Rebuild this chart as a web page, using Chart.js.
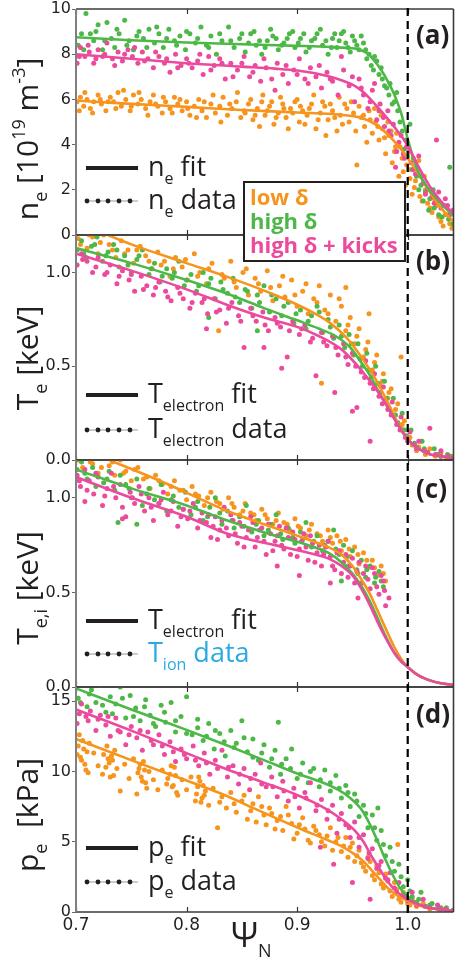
<!DOCTYPE html>
<html><head><meta charset="utf-8">
<script src="https://cdn.jsdelivr.net/npm/chart.js@4.4.0/dist/chart.umd.min.js"></script>
<style>
html,body{margin:0;padding:0;background:#fff;}
#wrap{position:relative;width:456px;height:962px;overflow:hidden;background:#fff;}
#wrap canvas{position:absolute;left:0;top:0;}
</style></head><body><div id="wrap">
<canvas id="ca" width="456" height="962"></canvas>
<canvas id="cb" width="456" height="962"></canvas>
<canvas id="cc" width="456" height="962"></canvas>
<canvas id="cd" width="456" height="962"></canvas>
</div>
<script>
// ---------- axes ----------
const X_MIN = 0.7, X_MAX = 1.0414;
const X_TICKS = [0.7, 0.8, 0.9, 1.0];
const NE_TICKS = [0, 2, 4, 6, 8, 10];
const TE_TICKS = [0.0, 0.5, 1.0];
const TI_TICKS = [0.0, 0.5, 1.0];
const PE_TICKS = [0, 5, 10, 15];
const SERIES_NAMES = ['low δ', 'high δ', 'high δ + kicks'];

// ---------- (a) electron density ----------
const NE_FIT_LOW = [[0.7,5.95],[0.75,5.8],[0.8,5.67],[0.85,5.53],[0.9,5.42],[0.94,5.32],[0.955,5.22],[0.965,5.05],[0.975,4.75],[0.985,4.3],[0.993,3.85],[1.0,3.4],[1.01,2.7],[1.02,1.9],[1.03,1.2],[1.0414,0.6]];
const NE_FIT_HIGH = [[0.7,8.75],[0.75,8.62],[0.8,8.52],[0.85,8.44],[0.9,8.37],[0.93,8.32],[0.945,8.28],[0.955,8.22],[0.963,8.05],[0.97,7.7],[0.976,7.3],[0.982,6.8],[0.988,6.2],[0.994,5.4],[1.0,4.25],[1.005,3.4],[1.01,2.75],[1.015,2.3],[1.021,1.9],[1.03,1.4],[1.0414,0.85]];
const NE_FIT_KICK = [[0.7,8.0],[0.75,7.8],[0.8,7.6],[0.85,7.45],[0.88,7.36],[0.9,7.28],[0.915,7.17],[0.93,7.0],[0.94,6.85],[0.95,6.65],[0.958,6.4],[0.965,6.08],[0.972,5.7],[0.98,5.25],[0.99,4.65],[1.0,3.95],[1.01,3.0],[1.02,2.15],[1.03,1.5],[1.0414,0.95]];
const NE_PTS_HIGH = [[0.702,8.4],[0.705,8.9],[0.709,9.8],[0.713,8.9],[0.716,8.6],[0.72,9.3],[0.724,8.2],[0.728,9.4],[0.732,8.7],[0.735,8.3],[0.739,8.9],[0.744,9.5],[0.748,8.6],[0.752,8.2],[0.757,9.0],[0.761,8.7],[0.766,9.1],[0.771,8.5],[0.775,8.9],[0.779,8.3],[0.784,9.1],[0.789,8.6],[0.794,8.8],[0.799,8.2],[0.803,8.9],[0.808,8.5],[0.813,9.2],[0.818,8.4],[0.822,8.8],[0.827,8.0],[0.832,8.6],[0.838,9.2],[0.843,8.3],[0.848,8.7],[0.853,8.1],[0.858,8.9],[0.863,8.4],[0.868,8.0],[0.873,8.6],[0.878,8.8],[0.883,8.2],[0.888,8.5],[0.893,8.9],[0.898,8.3],[0.903,8.7],[0.908,8.1],[0.913,8.6],[0.918,8.9],[0.923,8.4],[0.928,8.0],[0.932,8.7],[0.936,8.3],[0.94,8.9],[0.944,8.5],[0.948,8.1],[0.952,8.6],[0.956,8.2],[0.96,8.5],[0.963,7.8],[0.967,7.5],[0.97,7.9],[0.974,7.1],[0.977,6.9],[0.981,6.5],[0.984,6.7],[0.988,5.9],[0.991,5.5],[0.995,4.6],[0.998,4.2],[1.002,4.9],[1.005,3.4],[1.008,2.6],[1.012,2.2],[1.016,1.9],[1.02,1.6],[1.024,1.2],[1.028,0.9],[1.033,1.3],[1.037,0.7],[1.041,0.5],
  [0.707,8.2],[0.718,9.0],[0.726,8.6],[0.737,9.1],[0.746,8.4],[0.755,8.8],[0.764,8.3],[0.773,9.2],[0.782,8.7],[0.791,8.4],[0.8,9.0],[0.81,8.7],[0.82,8.3],[0.83,8.9],[0.84,8.6],[0.85,8.9],[0.856,8.5],[0.861,9.0],[0.866,8.6],[0.871,8.3],[0.876,9.1],[0.881,8.7],[0.886,8.4],[0.891,8.7],[0.896,9.0],[0.901,8.5],[0.906,8.9],[0.911,8.3],[0.916,8.7],[0.921,9.1],[0.926,8.6],[0.931,8.3],[0.934,8.9],[0.938,8.6],[0.942,9.0],[0.946,8.3],[0.95,8.8],[0.954,8.4],[0.958,8.8],[0.962,8.2],[0.965,8.0],[0.969,7.3],[0.972,7.7],[0.976,7.4],[0.979,6.6],[0.983,6.2],[0.986,5.8],[0.99,6.3],[0.993,5.0],[0.997,3.8],[1.0,3.5],[1.004,2.9],[1.01,2.0],[1.014,1.5],[1.019,1.1],[1.023,2.0],[1.027,1.5],[1.031,0.8],[1.038,3.0]];
const NE_PTS_KICK = [[0.701,7.6],[0.704,8.3],[0.708,7.9],[0.712,8.1],[0.716,7.6],[0.72,8.2],[0.724,7.9],[0.728,8.5],[0.733,7.8],[0.738,8.1],[0.742,7.7],[0.747,8.2],[0.751,7.9],[0.756,7.6],[0.76,8.1],[0.765,7.8],[0.77,7.4],[0.775,7.9],[0.78,7.6],[0.785,7.2],[0.79,8.0],[0.795,7.5],[0.8,7.8],[0.805,7.4],[0.81,7.7],[0.815,7.1],[0.82,7.9],[0.825,7.5],[0.83,7.8],[0.835,6.9],[0.84,7.6],[0.846,7.3],[0.852,7.9],[0.857,7.0],[0.862,7.5],[0.867,6.8],[0.872,7.4],[0.877,6.9],[0.882,7.6],[0.887,7.1],[0.892,6.7],[0.897,7.3],[0.902,7.8],[0.907,6.9],[0.912,7.4],[0.917,7.0],[0.922,6.5],[0.927,7.2],[0.932,6.8],[0.937,6.2],[0.942,7.3],[0.947,6.6],[0.952,5.9],[0.956,6.9],[0.96,6.2],[0.964,5.6],[0.968,6.4],[0.972,5.1],[0.975,5.8],[0.979,4.8],[0.982,5.5],[0.985,4.4],[0.989,3.0],[0.992,4.1],[0.996,3.6],[0.999,3.9],[1.003,3.2],[1.007,2.7],[1.01,3.5],[1.014,2.3],[1.018,2.0],[1.022,1.7],[1.026,4.2],[1.03,1.2],[1.034,1.6],[1.038,0.9],[1.041,1.1],
  [0.703,7.9],[0.711,8.4],[0.718,7.8],[0.726,8.0],[0.735,7.5],[0.744,8.0],[0.753,8.3],[0.762,7.7],[0.772,8.1],[0.782,7.8],[0.792,7.4],[0.802,7.6],[0.812,8.0],[0.822,7.3],[0.832,7.6],[0.842,7.0],[0.85,7.6],[0.86,7.2],[0.87,7.8],[0.88,6.4],[0.89,7.5],[0.9,7.1],[0.91,6.7],[0.92,7.5],[0.93,6.9],[0.94,7.9],[0.95,7.0],[0.958,6.5],[0.966,5.9],[0.97,6.7],[0.974,5.5],[0.978,5.2],[0.983,4.6],[0.987,4.9],[0.99,3.7],[0.994,4.4],[0.997,3.4],[1.001,3.7],[1.005,2.9],[1.012,2.6],[1.016,1.8],[1.024,1.4],[1.028,1.9],[1.036,1.3]];
const NE_PTS_LOW = [[0.701,5.9],[0.704,6.1],[0.707,5.7],[0.71,6.0],[0.713,5.6],[0.716,5.9],[0.72,6.2],[0.723,5.8],[0.727,5.5],[0.731,6.1],[0.734,5.9],[0.738,6.3],[0.741,5.7],[0.745,6.0],[0.749,5.5],[0.752,6.2],[0.756,5.8],[0.759,6.0],[0.763,5.6],[0.767,5.9],[0.77,6.2],[0.774,5.7],[0.778,5.4],[0.781,5.9],[0.785,5.6],[0.789,6.1],[0.792,5.8],[0.796,5.5],[0.8,5.9],[0.803,5.3],[0.807,5.7],[0.811,6.0],[0.814,5.5],[0.818,5.2],[0.822,5.8],[0.826,5.4],[0.83,5.7],[0.833,6.1],[0.837,5.3],[0.841,5.6],[0.845,5.9],[0.849,5.2],[0.852,5.5],[0.856,5.8],[0.86,5.1],[0.864,5.6],[0.868,5.9],[0.871,5.3],[0.875,5.7],[0.879,4.9],[0.883,5.4],[0.887,5.8],[0.89,5.2],[0.894,5.6],[0.898,5.9],[0.902,5.0],[0.905,5.5],[0.909,5.3],[0.913,5.8],[0.917,4.7],[0.921,5.4],[0.925,5.7],[0.928,5.1],[0.932,5.5],[0.936,4.6],[0.939,5.3],[0.943,5.8],[0.947,5.0],[0.951,5.4],[0.954,3.1],[0.958,5.2],[0.961,4.8],[0.965,5.5],[0.968,4.5],[0.971,5.0],[0.974,4.2],[0.977,4.7],[0.98,3.6],[0.983,4.4],[0.986,3.2],[0.989,3.9],[0.992,2.6],[0.995,3.4],[0.998,2.2],[1.001,2.9],[1.004,1.8],[1.007,2.4],[1.01,3.3],[1.013,1.5],[1.016,2.0],[1.02,1.2],[1.024,1.6],[1.028,0.8],[1.032,0.4],[1.036,0.9],[1.04,0.3],
  [0.703,5.5],[0.708,6.3],[0.715,5.4],[0.722,6.0],[0.729,5.9],[0.736,5.6],[0.743,6.4],[0.75,5.7],[0.757,6.3],[0.765,5.3],[0.772,5.8],[0.779,6.1],[0.787,5.4],[0.794,6.0],[0.801,5.6],[0.809,5.2],[0.816,5.9],[0.824,6.2],[0.831,5.0],[0.839,5.8],[0.846,6.3],[0.853,5.4],[0.858,6.0],[0.862,5.3],[0.866,4.8],[0.869,6.2],[0.873,5.5],[0.877,5.9],[0.881,5.2],[0.885,6.1],[0.888,5.6],[0.892,4.7],[0.896,5.4],[0.9,6.0],[0.903,5.7],[0.907,4.9],[0.911,5.6],[0.915,6.2],[0.919,5.1],[0.923,5.9],[0.926,4.4],[0.93,5.8],[0.934,5.2],[0.938,6.1],[0.941,4.9],[0.945,5.6],[0.949,5.9],[0.953,4.6],[0.956,5.7],[0.96,5.3],[0.963,4.1],[0.966,5.1],[0.97,5.6],[0.973,4.8],[0.976,5.3],[0.979,4.3],[0.982,5.0],[0.985,4.6],[0.988,3.7],[0.99,4.5],[0.993,3.9],[0.996,2.8],[0.999,3.1],[1.002,2.5],[1.006,2.1],[1.011,1.7],[1.015,2.6],[1.018,1.4],[1.022,1.0],[1.026,1.3],[1.03,0.6],[1.034,0.9],[1.038,0.5]];

// ---------- (b) electron temperature ----------
const TE_FIT_LOW = [[0.7,1.27],[0.75,1.15],[0.8,1.05],[0.84,0.97],[0.88,0.88],[0.91,0.8],[0.93,0.73],[0.945,0.65],[0.958,0.55],[0.97,0.44],[0.98,0.33],[0.99,0.21],[1.0,0.11],[1.01,0.06],[1.02,0.03],[1.03,0.02],[1.0414,0.01]];
const TE_FIT_HIGH = [[0.7,1.13],[0.75,1.05],[0.8,0.96],[0.84,0.88],[0.87,0.81],[0.9,0.745],[0.92,0.7],[0.935,0.66],[0.948,0.6],[0.958,0.52],[0.966,0.45],[0.975,0.35],[0.983,0.27],[0.99,0.2],[1.0,0.11],[1.01,0.06],[1.02,0.03],[1.03,0.02],[1.0414,0.01]];
const TE_FIT_KICK = [[0.7,1.10],[0.75,1.01],[0.8,0.91],[0.84,0.82],[0.87,0.76],[0.9,0.71],[0.92,0.66],[0.94,0.59],[0.952,0.52],[0.962,0.45],[0.97,0.39],[0.978,0.32],[0.985,0.25],[0.992,0.18],[1.0,0.11],[1.01,0.06],[1.02,0.03],[1.03,0.02],[1.0414,0.01]];
const TE_PTS_LOW = [[0.702,1.18],[0.706,1.22],[0.71,1.13],[0.715,1.19],[0.72,1.1],[0.725,1.2],[0.73,1.15],[0.736,1.08],[0.741,1.17],[0.747,1.12],[0.752,1.05],[0.758,1.14],[0.763,1.09],[0.769,1.02],[0.774,1.11],[0.78,1.06],[0.785,0.98],[0.79,1.08],[0.796,1.03],[0.801,0.96],[0.807,1.1],[0.812,1.0],[0.818,0.94],[0.823,1.05],[0.829,0.69],[0.834,0.97],[0.84,1.06],[0.845,0.92],[0.851,1.0],[0.856,0.88],[0.862,0.97],[0.867,0.9],[0.873,1.01],[0.878,0.85],[0.884,0.93],[0.889,0.87],[0.895,0.96],[0.9,0.82],[0.905,0.9],[0.91,0.78],[0.915,0.86],[0.92,0.93],[0.925,0.8],[0.93,0.88],[0.935,0.74],[0.94,0.82],[0.944,0.69],[0.948,0.76],[0.952,0.62],[0.956,0.7],[0.96,0.55],[0.964,0.63],[0.968,0.48],[0.972,0.56],[0.975,0.4],[0.978,0.46],[0.982,0.33],[0.985,0.38],[0.988,0.24],[0.991,0.3],[0.994,0.17],[0.997,0.21],[1.0,0.11],[1.004,0.08],[1.008,0.05],[1.012,0.1],[1.016,0.03],[1.02,0.06],[1.025,0.02],[1.03,0.04],[1.035,0.01],[1.04,0.02],
  [0.704,1.15],[0.712,1.2],[0.722,1.16],[0.733,1.12],[0.744,1.1],[0.755,1.12],[0.766,1.06],[0.777,1.04],[0.788,1.02],[0.799,1.07],[0.81,0.98],[0.82,1.02],[0.832,0.99],[0.843,0.95],[0.854,1.02],[0.865,0.94],[0.876,0.92],[0.887,0.98],[0.898,0.88],[0.908,0.94],[0.918,0.84],[0.928,0.78],[0.938,0.86],[0.946,0.72],[0.954,0.66],[0.962,0.59],[0.97,0.52],[0.977,0.42],[0.983,0.36],[0.989,0.27],[0.995,0.19],[1.002,0.12],[1.01,0.07],[1.018,0.04],[1.028,0.03],[1.038,0.015],[0.922,0.41],[0.944,0.92],[0.994,0.55],[0.965,0.78]];
const TE_PTS_HIGH = [[0.701,1.12],[0.705,1.17],[0.709,1.08],[0.714,1.14],[0.719,1.19],[0.724,1.06],[0.729,1.11],[0.734,1.15],[0.739,1.03],[0.744,1.09],[0.75,1.0],[0.755,1.07],[0.76,1.12],[0.766,0.99],[0.771,1.05],[0.776,0.95],[0.782,1.02],[0.787,0.97],[0.793,1.06],[0.798,0.93],[0.804,0.99],[0.809,0.9],[0.815,1.0],[0.82,0.94],[0.826,0.86],[0.831,0.95],[0.837,0.89],[0.842,0.97],[0.848,0.84],[0.853,0.91],[0.859,0.81],[0.864,0.88],[0.87,0.93],[0.875,0.79],[0.881,0.86],[0.886,0.77],[0.892,0.84],[0.897,0.73],[0.903,0.8],[0.908,0.7],[0.913,0.77],[0.918,0.82],[0.923,0.68],[0.928,0.75],[0.933,0.65],[0.938,0.72],[0.943,0.6],[0.947,0.67],[0.951,0.56],[0.955,0.62],[0.959,0.5],[0.963,0.57],[0.967,0.44],[0.971,0.5],[0.975,0.36],[0.979,0.42],[0.983,0.28],[0.987,0.33],[0.991,0.2],[0.995,0.25],[0.999,0.13],[1.003,0.16],[1.008,0.07],[1.013,0.1],[1.018,0.04],[1.024,0.06],[1.03,0.02],[1.036,0.03],[1.041,0.01],
  [0.707,1.1],[0.717,1.15],[0.727,1.09],[0.737,1.12],[0.747,1.04],[0.757,1.09],[0.768,1.02],[0.778,0.98],[0.789,1.0],[0.8,0.96],[0.811,0.93],[0.822,0.97],[0.833,0.91],[0.844,0.87],[0.855,0.9],[0.866,0.84],[0.877,0.88],[0.888,0.82],[0.899,0.78],[0.91,0.74],[0.92,0.79],[0.93,0.71],[0.94,0.66],[0.949,0.62],[0.957,0.54],[0.965,0.48],[0.973,0.41],[0.981,0.33],[0.989,0.24],[0.997,0.16],[1.006,0.09],[1.015,0.06],[1.027,0.03],[1.038,0.02],[0.864,0.69],[0.82,0.76]];
const TE_PTS_KICK = [[0.701,1.04],[0.705,1.1],[0.71,1.06],[0.715,1.0],[0.72,1.08],[0.726,0.99],[0.731,1.04],[0.737,0.94],[0.742,1.01],[0.748,0.96],[0.753,0.9],[0.759,0.98],[0.764,0.93],[0.77,0.88],[0.775,0.95],[0.781,0.9],[0.786,0.85],[0.792,0.92],[0.797,0.86],[0.803,0.81],[0.808,0.89],[0.814,0.84],[0.819,0.78],[0.825,0.86],[0.83,0.8],[0.836,0.73],[0.841,0.84],[0.847,0.77],[0.852,0.6],[0.858,0.81],[0.863,0.74],[0.869,0.79],[0.874,0.69],[0.88,0.76],[0.885,0.71],[0.891,0.55],[0.896,0.74],[0.902,0.67],[0.907,0.72],[0.912,0.63],[0.917,0.45],[0.922,0.68],[0.927,0.61],[0.932,0.66],[0.937,0.56],[0.942,0.62],[0.946,0.51],[0.95,0.57],[0.954,0.28],[0.958,0.47],[0.962,0.53],[0.966,0.41],[0.97,0.46],[0.974,0.34],[0.978,0.39],[0.982,0.27],[0.986,0.31],[0.99,0.19],[0.994,0.23],[0.998,0.12],[1.002,0.15],[1.006,0.08],[1.01,0.1],[1.015,0.05],[1.02,0.17],[1.025,0.03],[1.03,0.05],[1.036,0.02],[1.041,0.01],
  [0.706,1.07],[0.718,1.03],[0.728,1.0],[0.739,0.98],[0.75,0.99],[0.761,0.91],[0.772,0.92],[0.783,0.87],[0.794,0.89],[0.805,0.84],[0.816,0.86],[0.818,0.7],[0.827,0.79],[0.838,0.81],[0.849,0.74],[0.86,0.77],[0.87,0.6],[0.871,0.72],[0.882,0.73],[0.886,0.49],[0.893,0.69],[0.904,0.7],[0.914,0.65],[0.924,0.63],[0.934,0.36],[0.935,0.6],[0.944,0.55],[0.95,0.26],[0.953,0.5],[0.961,0.44],[0.966,0.1],[0.969,0.38],[0.977,0.3],[0.985,0.24],[0.993,0.16],[1.0,0.1],[1.008,0.06],[1.018,0.04],[1.03,0.02]];

// ---------- (c) electron fit + ion temperature data ----------
const TI_FIT_LOW = [[0.7,1.27],[0.73,1.2],[0.78,1.08],[0.837,0.93],[0.88,0.84],[0.91,0.78],[0.928,0.74],[0.94,0.7],[0.95,0.64],[0.958,0.57],[0.966,0.49],[0.973,0.40],[0.98,0.31],[0.988,0.21],[0.994,0.15],[1.0,0.105],[1.01,0.06],[1.02,0.035],[1.03,0.02],[1.0414,0.01]];
const TI_FIT_HIGH = [[0.7,1.15],[0.75,1.05],[0.8,0.96],[0.837,0.88],[0.88,0.8],[0.91,0.75],[0.928,0.71],[0.94,0.66],[0.95,0.6],[0.958,0.535],[0.966,0.45],[0.973,0.36],[0.98,0.27],[0.988,0.18],[0.994,0.135],[1.0,0.105],[1.01,0.06],[1.02,0.035],[1.03,0.02],[1.0414,0.01]];
const TI_FIT_KICK = [[0.7,1.11],[0.75,1.0],[0.8,0.9],[0.837,0.81],[0.88,0.75],[0.91,0.71],[0.928,0.68],[0.94,0.64],[0.95,0.59],[0.958,0.52],[0.966,0.43],[0.973,0.34],[0.98,0.26],[0.988,0.18],[0.994,0.135],[1.0,0.105],[1.01,0.06],[1.02,0.035],[1.03,0.02],[1.0414,0.01]];
const TI_PTS_LOW = [[0.702,1.2],[0.706,1.16],[0.71,1.23],[0.715,1.18],[0.72,1.13],[0.725,1.21],[0.73,1.17],[0.735,1.12],[0.74,1.2],[0.745,1.14],[0.75,1.09],[0.756,1.16],[0.761,1.1],[0.767,1.05],[0.772,1.12],[0.778,1.07],[0.783,1.02],[0.789,1.09],[0.794,1.04],[0.8,0.99],[0.805,1.06],[0.811,1.01],[0.816,0.96],[0.822,1.03],[0.827,0.98],[0.833,0.94],[0.838,1.0],[0.843,0.95],[0.848,0.91],[0.853,0.97],[0.858,0.92],[0.863,0.88],[0.868,0.94],[0.873,0.89],[0.878,0.86],[0.883,0.92],[0.888,0.87],[0.893,0.83],[0.898,0.89],[0.903,0.84],[0.908,0.8],[0.913,0.86],[0.918,0.81],[0.923,0.77],[0.928,0.83],[0.932,0.76],[0.936,0.8],[0.94,0.72],[0.944,0.78],[0.948,0.69],[0.952,0.74],[0.956,0.65],[0.96,0.71],[0.964,0.63],[0.968,0.67],[0.972,0.59],[0.976,0.64],[0.98,0.56],
  [0.704,1.22],[0.713,1.19],[0.723,1.16],[0.733,1.19],[0.743,1.13],[0.753,1.15],[0.764,1.11],[0.775,1.09],[0.786,1.06],[0.797,1.04],[0.808,1.02],[0.819,1.0],[0.83,0.97],[0.841,0.97],[0.851,0.93],[0.861,0.91],[0.871,0.91],[0.881,0.88],[0.891,0.86],[0.901,0.85],[0.911,0.83],[0.921,0.8],[0.93,0.79],[0.939,0.77],[0.947,0.73],[0.955,0.7],[0.963,0.67],[0.97,0.63],[0.978,0.6]];
const TI_PTS_HIGH = [[0.701,1.15],[0.705,1.19],[0.71,1.1],[0.715,1.16],[0.72,1.21],[0.725,1.08],[0.73,1.14],[0.735,1.04],[0.74,1.12],[0.745,1.07],[0.75,1.0],[0.755,1.1],[0.76,0.96],[0.766,1.05],[0.771,0.99],[0.777,1.07],[0.782,0.93],[0.788,1.01],[0.793,0.95],[0.799,1.03],[0.804,0.91],[0.81,0.98],[0.815,0.88],[0.821,0.95],[0.826,1.0],[0.832,0.86],[0.837,0.93],[0.843,0.84],[0.848,0.9],[0.854,0.96],[0.859,0.82],[0.865,0.88],[0.87,0.8],[0.876,0.86],[0.881,0.91],[0.887,0.78],[0.892,0.84],[0.898,0.76],[0.903,0.82],[0.908,0.87],[0.913,0.74],[0.918,0.8],[0.923,0.72],[0.928,0.77],[0.933,0.83],[0.938,0.7],[0.942,0.75],[0.946,0.64],[0.95,0.72],[0.954,0.62],[0.958,0.67],[0.962,0.58],[0.966,0.64],[0.97,0.55],[0.974,0.61],[0.978,0.53],
  [0.708,1.13],[0.718,1.06],[0.728,1.1],[0.738,0.87],[0.748,1.05],[0.755,0.86],[0.764,1.02],[0.775,0.97],[0.786,0.99],[0.797,0.94],[0.808,0.95],[0.819,0.9],[0.83,0.92],[0.841,0.88],[0.852,0.85],[0.863,0.86],[0.874,0.83],[0.885,0.81],[0.896,0.79],[0.905,0.78],[0.915,0.77],[0.925,0.75],[0.935,0.73],[0.945,0.69],[0.955,0.6],[0.963,0.62],[0.971,0.58],[0.976,0.56],[0.94,0.56]];
const TI_PTS_KICK = [[0.701,1.12],[0.704,1.06],[0.708,1.15],[0.712,1.09],[0.716,1.02],[0.72,1.11],[0.724,0.96],[0.728,1.05],[0.732,1.13],[0.736,1.0],[0.74,1.07],[0.745,0.9],[0.749,1.03],[0.753,0.97],[0.757,1.06],[0.762,0.93],[0.766,1.0],[0.77,0.88],[0.775,0.97],[0.779,1.03],[0.783,0.91],[0.788,0.98],[0.792,0.85],[0.797,0.94],[0.801,0.89],[0.806,0.97],[0.81,0.84],[0.814,0.92],[0.818,0.87],[0.822,0.79],[0.826,0.9],[0.83,0.83],[0.834,0.95],[0.838,0.8],[0.842,0.88],[0.846,0.76],[0.85,0.85],[0.854,0.79],[0.858,0.9],[0.862,0.74],[0.866,0.83],[0.87,0.77],[0.874,0.86],[0.878,0.72],[0.882,0.8],[0.886,0.75],[0.89,0.84],[0.894,0.7],[0.898,0.78],[0.902,0.73],[0.906,0.81],[0.91,0.67],[0.914,0.76],[0.918,0.71],[0.922,0.64],[0.926,0.74],[0.93,0.69],[0.934,0.62],[0.938,0.72],[0.942,0.66],[0.946,0.58],[0.95,0.68],[0.954,0.61],[0.958,0.55],[0.962,0.64],[0.966,0.52],[0.97,0.6],[0.974,0.49],[0.978,0.56],[0.98,0.43],
  [0.703,1.09],[0.71,1.04],[0.718,1.13],[0.726,1.01],[0.734,1.06],[0.742,0.95],[0.751,1.0],[0.759,1.02],[0.768,0.95],[0.777,0.99],[0.786,0.93],[0.795,0.9],[0.803,0.93],[0.812,0.88],[0.82,0.91],[0.824,0.85],[0.828,0.78],[0.832,0.88],[0.836,0.84],[0.84,0.91],[0.844,0.81],[0.848,0.87],[0.852,0.74],[0.856,0.83],[0.86,0.87],[0.864,0.79],[0.868,0.84],[0.872,0.7],[0.876,0.81],[0.88,0.77],[0.884,0.85],[0.888,0.73],[0.892,0.79],[0.896,0.82],[0.9,0.69],[0.904,0.77],[0.908,0.74],[0.912,0.8],[0.916,0.66],[0.92,0.75],[0.924,0.7],[0.928,0.77],[0.932,0.64],[0.936,0.71],[0.94,0.6],[0.944,0.7],[0.948,0.64],[0.952,0.55],[0.956,0.66],[0.96,0.6],[0.964,0.57],[0.968,0.63],[0.972,0.53],[0.976,0.59],[0.979,0.51],[0.882,0.64],[0.902,0.59],[0.93,0.55],[0.955,0.47],[0.983,0.47],[0.708,0.98],[0.742,0.89]];

// ---------- (d) electron pressure ----------
const PE_FIT_LOW = [[0.7,12.3],[0.76,10.5],[0.8,9.35],[0.838,8.2],[0.86,7.4],[0.883,6.6],[0.905,5.85],[0.928,5.1],[0.942,4.6],[0.952,4.1],[0.96,3.6],[0.967,3.0],[0.975,2.3],[0.982,1.7],[0.99,1.2],[1.0,0.8],[1.009,0.5],[1.018,0.3],[1.03,0.16],[1.0414,0.1]];
const PE_FIT_HIGH = [[0.7,15.9],[0.75,14.4],[0.8,12.95],[0.838,11.8],[0.87,10.8],[0.9,9.85],[0.92,9.3],[0.937,8.7],[0.948,8.1],[0.958,7.3],[0.966,6.2],[0.973,5.0],[0.98,3.7],[0.988,2.4],[0.994,1.6],[1.0,1.1],[1.009,0.6],[1.018,0.35],[1.03,0.18],[1.0414,0.1]];
const PE_FIT_KICK = [[0.7,14.4],[0.75,12.9],[0.8,11.3],[0.838,10.1],[0.87,9.2],[0.896,8.45],[0.915,7.8],[0.928,7.25],[0.94,6.6],[0.952,5.8],[0.96,5.0],[0.967,4.0],[0.975,3.0],[0.982,2.15],[0.99,1.45],[1.0,0.9],[1.009,0.55],[1.018,0.32],[1.03,0.17],[1.0414,0.1]];
const PE_PTS_HIGH = [[0.702,15.2],[0.706,16.3],[0.71,14.6],[0.714,15.8],[0.718,14.9],[0.722,16.1],[0.727,14.2],[0.731,15.3],[0.736,14.8],[0.74,16.0],[0.745,13.8],[0.749,15.4],[0.754,14.5],[0.758,13.6],[0.763,15.1],[0.767,14.0],[0.772,13.2],[0.777,14.7],[0.781,13.5],[0.786,14.9],[0.79,12.8],[0.795,13.9],[0.8,15.3],[0.805,12.6],[0.81,13.7],[0.815,12.2],[0.82,13.4],[0.825,11.6],[0.83,12.7],[0.835,11.1],[0.84,12.9],[0.845,12.0],[0.85,13.6],[0.855,11.4],[0.86,12.3],[0.865,10.8],[0.87,11.9],[0.875,10.3],[0.88,11.5],[0.883,13.5],[0.885,9.8],[0.89,10.9],[0.895,11.6],[0.9,9.5],[0.905,10.6],[0.91,9.2],[0.915,10.2],[0.92,8.9],[0.925,10.1],[0.93,8.6],[0.935,9.7],[0.94,8.1],[0.944,9.0],[0.948,7.5],[0.952,8.4],[0.956,6.8],[0.96,7.6],[0.964,6.0],[0.968,6.9],[0.972,5.1],[0.973,7.4],[0.976,5.8],[0.98,4.0],[0.984,4.6],[0.988,2.9],[0.992,3.4],[0.996,1.8],[1.0,2.3],[1.004,1.1],[1.008,0.7],[1.012,1.4],[1.016,0.4],[1.022,0.6],[1.028,0.2],[1.035,0.3],[1.041,0.1],
  [0.704,14.9],[0.712,15.5],[0.724,14.7],[0.733,14.1],[0.742,15.2],[0.752,13.9],[0.762,14.6],[0.77,13.4],[0.78,14.2],[0.79,13.6],[0.8,12.7],[0.81,13.1],[0.818,12.5],[0.826,12.9],[0.834,12.1],[0.843,11.7],[0.852,12.4],[0.86,11.0],[0.868,11.3],[0.877,10.9],[0.886,10.5],[0.894,10.2],[0.903,9.8],[0.912,10.0],[0.921,9.4],[0.93,9.2],[0.938,8.8],[0.946,8.5],[0.954,7.9],[0.962,7.0],[0.97,6.0],[0.978,4.8],[0.986,3.6],[0.994,2.5],[1.002,1.5],[1.01,0.9],[1.02,0.5],[1.03,0.3]];
const PE_PTS_KICK = [[0.701,13.4],[0.705,14.8],[0.709,13.9],[0.713,14.3],[0.718,12.9],[0.722,14.0],[0.727,13.3],[0.731,12.5],[0.736,13.8],[0.74,12.8],[0.745,11.9],[0.75,13.2],[0.755,12.4],[0.76,11.5],[0.765,12.8],[0.77,11.9],[0.775,12.6],[0.78,11.2],[0.785,12.1],[0.79,10.7],[0.795,11.6],[0.8,10.9],[0.806,11.8],[0.811,10.4],[0.816,11.3],[0.821,9.8],[0.826,10.8],[0.832,11.5],[0.837,9.6],[0.842,10.4],[0.847,9.1],[0.852,10.2],[0.857,8.7],[0.862,9.8],[0.867,10.6],[0.872,8.9],[0.877,9.6],[0.882,8.2],[0.887,9.3],[0.892,7.9],[0.897,8.8],[0.902,7.4],[0.907,8.5],[0.912,9.2],[0.917,7.2],[0.922,8.0],[0.927,6.6],[0.932,7.6],[0.936,5.6],[0.94,7.0],[0.944,6.2],[0.948,5.3],[0.952,6.4],[0.956,4.6],[0.96,5.5],[0.964,3.8],[0.968,4.5],[0.972,3.1],[0.976,3.6],[0.98,2.4],[0.984,2.8],[0.988,1.7],[0.992,2.1],[0.996,1.2],[1.0,0.8],[1.004,1.4],[1.008,0.5],[1.014,0.9],[1.02,0.3],[1.027,0.5],[1.034,0.2],[1.041,0.1],
  [0.703,14.1],[0.711,13.6],[0.72,13.7],[0.729,13.9],[0.738,12.9],[0.748,12.6],[0.758,12.9],[0.768,12.2],[0.778,11.8],[0.788,11.4],[0.798,11.2],[0.808,10.8],[0.818,10.6],[0.828,10.2],[0.838,10.3],[0.848,9.8],[0.858,9.5],[0.868,9.1],[0.878,8.9],[0.888,8.6],[0.898,8.2],[0.908,8.1],[0.918,7.6],[0.928,7.2],[0.938,6.6],[0.947,6.0],[0.956,5.3],[0.965,4.2],[0.974,3.3],[0.982,2.3],[0.99,1.4],[0.998,1.0],[1.006,0.7],[1.016,0.4],[1.03,0.2],[0.921,4.6],[0.933,3.4],[0.95,2.1],[0.966,0.9]];
const PE_PTS_LOW = [[0.701,11.2],[0.703,12.6],[0.705,10.8],[0.707,11.6],[0.709,10.1],[0.712,12.0],[0.716,11.3],[0.72,10.4],[0.724,9.8],[0.728,11.8],[0.73,10.6],[0.732,11.1],[0.734,9.7],[0.737,10.2],[0.74,8.6],[0.744,10.5],[0.748,9.5],[0.752,10.9],[0.755,8.4],[0.757,10.2],[0.759,9.6],[0.761,10.7],[0.763,9.2],[0.766,10.0],[0.77,9.4],[0.774,8.7],[0.778,10.1],[0.782,9.1],[0.785,9.8],[0.787,8.9],[0.789,10.3],[0.792,8.3],[0.796,9.4],[0.8,8.7],[0.804,9.6],[0.808,7.9],[0.81,8.9],[0.812,9.3],[0.814,8.1],[0.817,8.6],[0.82,7.6],[0.824,8.8],[0.828,6.0],[0.832,8.2],[0.836,7.4],[0.84,8.5],[0.845,7.1],[0.85,7.9],[0.855,6.6],[0.86,7.7],[0.865,8.2],[0.87,6.9],[0.875,7.4],[0.88,5.9],[0.885,6.8],[0.89,7.5],[0.895,6.3],[0.9,5.6],[0.905,6.7],[0.91,5.1],[0.915,6.1],[0.92,5.5],[0.925,4.7],[0.93,6.0],[0.935,5.0],[0.94,4.3],[0.944,5.3],[0.948,4.6],[0.952,3.6],[0.956,4.4],[0.96,3.2],[0.964,3.9],[0.968,2.6],[0.972,3.3],[0.976,2.0],[0.98,2.7],[0.984,1.5],[0.988,2.1],[0.991,4.8],[0.992,0.9],[0.996,1.4],[1.0,0.6],[1.004,1.0],[1.008,0.4],[1.014,0.6],[1.02,0.2],[1.028,0.3],[1.036,0.1],
  [0.702,11.8],[0.704,11.0],[0.706,12.2],[0.708,10.5],[0.71,11.4],[0.711,9.9],[0.725,11.2],[0.727,10.3],[0.729,10.9],[0.731,9.6],[0.733,10.8],[0.735,11.5],[0.756,9.9],[0.758,10.5],[0.76,9.3],[0.762,10.1],[0.764,8.8],[0.783,9.5],[0.786,10.4],[0.788,9.0],[0.79,9.7],[0.791,8.5],[0.809,8.4],[0.811,9.6],[0.813,7.8],[0.815,9.0],[0.816,8.3],[0.83,7.8],[0.843,7.7],[0.852,8.3],[0.858,7.2],[0.863,6.4],[0.868,7.5],[0.872,6.2],[0.877,7.0],[0.882,6.5],[0.887,5.8],[0.892,6.9],[0.897,5.2],[0.902,6.2],[0.907,5.9],[0.912,4.9],[0.917,5.8],[0.922,5.0],[0.927,5.4],[0.932,4.4],[0.937,5.3],[0.942,4.7],[0.946,3.9],[0.95,4.9],[0.954,4.0],[0.958,3.5],[0.962,2.9],[0.966,3.6],[0.97,2.3],[0.974,2.8],[0.978,1.7],[0.982,2.2],[0.986,1.1],[0.99,1.6],[0.994,0.7],[0.998,1.1],[1.002,0.5]];

// ---------- styling ----------
const COL = {low:'#F7941D', high:'#4DB848', kick:'#EC4A9C'};
const ION_BLUE = '#29ABE2';
const INK = '#231F20';
const SANS = '"Open Sans","Noto Sans",sans-serif';
const TICKFONT = '"DejaVu Sans",sans-serif';
const PAGE_H = 962;

const xy = a => a.map(p => ({x:p[0], y:p[1]}));

function richText(ctx, parts, x, y, align, rotate) {
  ctx.save();
  ctx.translate(x, y);
  if (rotate) ctx.rotate(-Math.PI/2);
  let total = 0;
  parts.forEach(p => { ctx.font = (p.b?'bold ':'') + p.s + 'px ' + SANS; p.w = ctx.measureText(p.t).width; total += p.w; });
  let cx = align === 'center' ? -total/2 : 0;
  ctx.textAlign = 'left'; ctx.textBaseline = 'alphabetic';
  parts.forEach(p => { ctx.font = (p.b?'bold ':'') + p.s + 'px ' + SANS; ctx.fillStyle = p.c || INK; ctx.fillText(p.t, cx, p.dy || 0); cx += p.w; });
  ctx.restore();
}

function drawLegend(ctx, yLine, yDots, fitParts, dataParts) {
  ctx.save();
  ctx.strokeStyle = INK; ctx.lineWidth = 4; ctx.lineCap = 'butt';
  ctx.beginPath(); ctx.moveTo(86, yLine); ctx.lineTo(138, yLine); ctx.stroke();
  ctx.strokeStyle = '#999'; ctx.lineWidth = 1;
  ctx.beginPath(); ctx.moveTo(86, yDots); ctx.lineTo(138, yDots); ctx.stroke();
  ctx.fillStyle = INK;
  [87, 98, 108, 119, 130].forEach(x => { ctx.beginPath(); ctx.arc(x, yDots, 2.4, 0, Math.PI*2); ctx.fill(); });
  ctx.restore();
  richText(ctx, fitParts, 148, yLine + 8, 'left', false);
  richText(ctx, dataParts, 148, yDots + 8, 'left', false);
}

const M = 27, SB = 16, SBD = 8;
const PANELS = [
  {id:'ca', top:7, bottom:235, yMax:10, ticks:NE_TICKS, dec:0,
   fit:{low:NE_FIT_LOW, high:NE_FIT_HIGH, kick:NE_FIT_KICK}, pts:{low:NE_PTS_LOW, high:NE_PTS_HIGH, kick:NE_PTS_KICK},
   title:[{t:'n',s:30},{t:'e',s:18,dy:9},{t:' [10',s:30},{t:'19',s:18,dy:-13},{t:' m',s:30},{t:'-3',s:18,dy:-13},{t:']',s:30}], titleY:139,
   label:'(a)', labelY:37, legY:[168,201],
   fitTxt:[{t:'n',s:M},{t:'e',s:SB,dy:SBD},{t:' fit',s:M}], dataTxt:[{t:'n',s:M},{t:'e',s:SB,dy:SBD},{t:' data',s:M}]},
  {id:'cb', top:235, bottom:460, yMax:1.2, ticks:TE_TICKS, dec:1,
   fit:{low:TE_FIT_LOW, high:TE_FIT_HIGH, kick:TE_FIT_KICK}, pts:{low:TE_PTS_LOW, high:TE_PTS_HIGH, kick:TE_PTS_KICK},
   title:[{t:'T',s:30},{t:'e',s:18,dy:9},{t:' [keV]',s:30}], titleY:358,
   label:'(b)', labelY:263, legY:[395,430],
   fitTxt:[{t:'T',s:M},{t:'electron',s:SB,dy:SBD},{t:' fit',s:M}], dataTxt:[{t:'T',s:M},{t:'electron',s:SB,dy:SBD},{t:' data',s:M}]},
  {id:'cc', top:460, bottom:687, yMax:1.2, ticks:TI_TICKS, dec:1,
   fit:{low:TI_FIT_LOW, high:TI_FIT_HIGH, kick:TI_FIT_KICK}, pts:{low:TI_PTS_LOW, high:TI_PTS_HIGH, kick:TI_PTS_KICK},
   title:[{t:'T',s:30},{t:'e,i',s:18,dy:9},{t:' [keV]',s:30}], titleY:588,
   label:'(c)', labelY:491, legY:[621,654],
   fitTxt:[{t:'T',s:M},{t:'electron',s:SB,dy:SBD},{t:' fit',s:M}], dataTxt:[{t:'T',s:M,c:ION_BLUE},{t:'ion',s:SB,dy:SBD,c:ION_BLUE},{t:' data',s:M,c:ION_BLUE}]},
  {id:'cd', top:687, bottom:912, yMax:16, ticks:PE_TICKS, dec:0,
   fit:{low:PE_FIT_LOW, high:PE_FIT_HIGH, kick:PE_FIT_KICK}, pts:{low:PE_PTS_LOW, high:PE_PTS_HIGH, kick:PE_PTS_KICK},
   title:[{t:'p',s:30},{t:'e',s:18,dy:9},{t:'  [kPa]',s:30}], titleY:815,
   label:'(d)', labelY:716, legY:[848,882],
   fitTxt:[{t:'p',s:M},{t:'e',s:SB,dy:SBD},{t:' fit',s:M}], dataTxt:[{t:'p',s:M},{t:'e',s:SB,dy:SBD},{t:' data',s:M}]}
];

function makeChart(p, isLast) {
  const datasets = [];
  ['kick','high','low'].forEach(k => datasets.push({
    label: k + ' fit', data: xy(p.fit[k]), showLine: true, borderColor: COL[k], backgroundColor: COL[k],
    borderWidth: 2.6, pointRadius: 0, cubicInterpolationMode: 'monotone', order: 0
  }));
  [['kick',1],['high',2],['low',3]].forEach(([k,o]) => datasets.push({
    label: k + ' data', data: xy(p.pts[k]), showLine: false, backgroundColor: COL[k], borderWidth: 0,
    pointRadius: 2.5, pointHoverRadius: 2.5, order: o
  }));

  const deco = {
    id: 'deco' + p.id,
    afterDatasetsDraw(chart) {
      const ctx = chart.ctx, a = chart.chartArea, xs = chart.scales.x;
      ctx.save();
      ctx.strokeStyle = '#333'; ctx.lineWidth = 1.2;
      X_TICKS.forEach(v => {
        const px = Math.round(xs.getPixelForValue(v)) + 0.5;
        ctx.beginPath(); ctx.moveTo(px, a.top); ctx.lineTo(px, a.top + 5); ctx.stroke();
        ctx.beginPath(); ctx.moveTo(px, a.bottom); ctx.lineTo(px, a.bottom - 5); ctx.stroke();
      });
      ctx.strokeStyle = '#3a3a3a'; ctx.lineWidth = 1.6;
      ctx.beginPath(); ctx.moveTo(a.left, a.top); ctx.lineTo(a.right, a.top); ctx.stroke();
      ctx.beginPath(); ctx.moveTo(a.left, a.bottom); ctx.lineTo(a.right, a.bottom); ctx.stroke();
      ctx.beginPath(); ctx.moveTo(a.right, a.top); ctx.lineTo(a.right, a.bottom); ctx.stroke();
      ctx.strokeStyle = '#808080'; ctx.lineWidth = 2;
      ctx.beginPath(); ctx.moveTo(a.left, a.top); ctx.lineTo(a.left, a.bottom); ctx.stroke();
      ctx.restore();
      richText(ctx, p.title, 38, p.titleY, 'center', true);
      ctx.save();
      ctx.font = 'bold 26px ' + SANS; ctx.fillStyle = INK; ctx.textAlign = 'left'; ctx.textBaseline = 'middle';
      ctx.fillText(p.label, 416, p.labelY);
      ctx.restore();
      drawLegend(ctx, p.legY[0], p.legY[1], p.fitTxt, p.dataTxt);

      if (isLast) {
        richText(ctx, [{t:'Ψ',s:34},{t:'N',s:18,dy:10}], 231, 947, 'left', false);
        const px = xs.getPixelForValue(1.0);
        ctx.save();
        ctx.strokeStyle = '#000'; ctx.lineWidth = 2.2; ctx.setLineDash([8,5]);
        ctx.beginPath(); ctx.moveTo(px, 8); ctx.lineTo(px, 918); ctx.stroke();
        ctx.restore();
        ctx.save();
        ctx.fillStyle = '#fff'; ctx.fillRect(244, 182, 161, 79);
        ctx.strokeStyle = INK; ctx.lineWidth = 2; ctx.strokeRect(244, 182, 161, 79);
        ctx.restore();
        const cols = [COL.low, COL.high, COL.kick];
        [205, 229, 253].forEach((yb, i) => richText(ctx, [{t:SERIES_NAMES[i], s:22, b:true, c:cols[i]}], 250, yb, 'left', false));
      }
    }
  };

  return new Chart(document.getElementById(p.id), {
    type: 'scatter',
    data: {datasets},
    options: {
      responsive: false, animation: false, devicePixelRatio: 1,
      layout: {padding: {left: 0, right: 1, top: p.top, bottom: isLast ? 0 : PAGE_H - p.bottom}},
      plugins: {legend: {display: false}, tooltip: {enabled: false}, title: {display: false}},
      scales: {
        x: {
          type: 'linear', min: X_MIN, max: X_MAX, display: isLast,
          afterBuildTicks: s => { s.ticks = X_TICKS.map(v => ({value: v})); },
          afterFit: s => { if (isLast) s.height = PAGE_H - p.bottom; else s.height = 0; },
          grid: {display: false, drawTicks: false}, border: {display: false},
          ticks: {font: {family: TICKFONT, size: 17}, color: INK, padding: 3, maxRotation: 0, autoSkip: false,
                  callback: v => Number(v).toFixed(1)}
        },
        y: {
          type: 'linear', min: 0, max: p.yMax,
          afterBuildTicks: s => { s.ticks = p.ticks.map(v => ({value: v})); },
          afterFit: s => { s.width = 76; },
          grid: {display: true, drawOnChartArea: false, drawTicks: true, tickLength: 4, color: '#666', lineWidth: 1},
          border: {display: false},
          ticks: {font: {family: TICKFONT, size: 16, lineHeight: 1}, color: INK, padding: 1, autoSkip: false,
                  callback: v => Number(v).toFixed(p.dec)}
        }
      }
    },
    plugins: [deco]
  });
}

PANELS.forEach((p, i) => makeChart(p, i === PANELS.length - 1));
</script>
</body></html>
